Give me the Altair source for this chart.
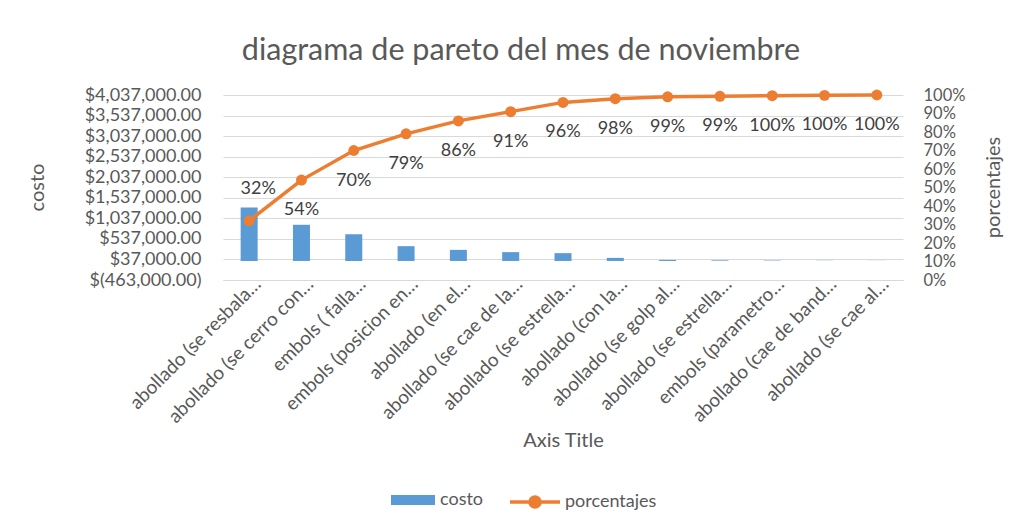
import altair as alt
import pandas as pd

categories = [
    "abollado (se resbala…",
    "abollado (se cerro con…",
    "embols ( falla…",
    "embols (posicion en…",
    "abollado (en el…",
    "abollado (se cae de la…",
    "abollado (se estrella…",
    "abollado (con la…",
    "abollado (se golp al…",
    "abollado (se estrella… ",
    "embols (parametro…",
    "abollado (cae de band…",
    "abollado (se cae al…",
]
costo = [1300000, 880000, 650000, 360000, 270000, 215000, 190000,
         75000, 25000, 15000, 10000, 5000, 3000]
porcentajes = [0.32, 0.54, 0.70, 0.79, 0.86, 0.91, 0.96,
               0.98, 0.99, 0.993, 0.996, 0.998, 1.0]

left_ticks = [-463000, 37000, 537000, 1037000, 1537000, 2037000,
              2537000, 3037000, 3537000, 4037000]
right_ticks = [0, 0.1, 0.2, 0.3, 0.4, 0.5, 0.6, 0.7, 0.8, 0.9, 1.0]

df = pd.DataFrame({
    "cat": categories,
    "costo": costo,
    "pct": porcentajes,
    "idx": list(range(len(categories))),
    "s_bar": "costo",
    "s_line": "porcentajes",
})

FONT = "Lato"
GREY = "#595959"
BLUE = "#5B9BD5"
ORANGE = "#ED7D31"

x = alt.X("cat:N", sort=categories,
          scale=alt.Scale(paddingInner=0, paddingOuter=0),
          axis=alt.Axis(title="Axis Title", labelAngle=315, labelAlign="right",
                        labelBaseline="alphabetic", labelFontSize=19, labelColor=GREY,
                        labelPadding=5, labelOffset=13, ticks=False, domain=True,
                        domainColor="#d9d9d9",
                        titleFontSize=20, titleColor=GREY, titleFontWeight="normal",
                        titleY=160, titleBaseline="middle", labelLimit=300))

bars = alt.Chart(df).mark_bar(size=17).encode(
    x=x,
    y=alt.Y("costo:Q",
            scale=alt.Scale(domain=[-463000, 4037000], nice=False, zero=False),
            axis=alt.Axis(title="costo", values=left_ticks,
                          labelExpr="datum.value < 0 ? '$(' + format(-datum.value, ',.2f') + ')' : '$' + format(datum.value, ',.2f')",
                          labelFontSize=18, labelColor=GREY, labelPadding=22,
                          ticks=False, domain=False, grid=True, gridColor="#d9d9d9",
                          titleFontSize=20, titleColor=GREY, titleFontWeight="normal",
                          titleAngle=270, titleX=-186, titleY=92, titleAlign="center",
                          titleBaseline="middle")),
    y2=alt.datum(0),
    fill=alt.Fill("s_bar:N", scale=alt.Scale(domain=["costo"], range=[BLUE]),
                  legend=alt.Legend(title=None, orient="none", legendX=168, legendY=383,
                                    symbolType="M-1,-0.23H1V0.23H-1Z", symbolSize=1936,
                                    symbolStrokeWidth=0, labelFontSize=18, labelColor=GREY,
                                    labelFont=FONT, labelOffset=5)),
)

yp = alt.Y("pct:Q", scale=alt.Scale(domain=[0, 1], nice=False),
           axis=alt.Axis(title="porcentajes", values=right_ticks, format=".0%",
                         orient="right", labelFontSize=16.5, labelColor=GREY,
                         labelPadding=20, ticks=False, domain=False, grid=False,
                         titleFontSize=20, titleColor=GREY, titleFontWeight="normal",
                         titleAngle=270, titleX=90, titleY=92, titleAlign="center",
                         titleBaseline="middle"))

line = alt.Chart(df).mark_line(strokeWidth=3.5).encode(
    x=x, y=yp,
    stroke=alt.Stroke("s_line:N", scale=alt.Scale(domain=["porcentajes"], range=[ORANGE]),
                      legend=alt.Legend(title=None, orient="none", legendX=285, legendY=380,
                                        symbolType="M-1,0H1M0.2,0A0.2,0.2 0 1,1 -0.2,0A0.2,0.2 0 1,1 0.2,0",
                                        symbolSize=2500, symbolStrokeWidth=3.5,
                                        symbolFillColor=ORANGE,
                                        labelFontSize=18, labelColor=GREY,
                                        labelFont=FONT, labelOffset=3)),
)

pts = alt.Chart(df).mark_circle(size=120, opacity=1, color=ORANGE).encode(x=x, y=yp)

lab_first = alt.Chart(df).transform_filter("datum.idx == 0").mark_text(
    dy=-32, dx=9, fontSize=18, color="#404040", font=FONT
).encode(x=x, y=yp, text=alt.Text("pct:Q", format=".0%"))

lab_rest = alt.Chart(df).transform_filter("datum.idx > 0").mark_text(
    dy=30, fontSize=18, color="#404040", font=FONT
).encode(x=x, y=yp, text=alt.Text("pct:Q", format=".0%"))

right = alt.layer(line, pts, lab_first, lab_rest)

chart = alt.layer(bars, right).resolve_scale(
    y="independent", fill="independent", stroke="independent"
).properties(
    width=680, height=185,
    autosize=alt.AutoSizeParams(type="none"),
    padding={"left": 215, "top": 87, "right": 112, "bottom": 236},
    title=alt.Title("diagrama de pareto del mes de noviembre", fontSize=30.5,
                    color=GREY, fontWeight="normal", font=FONT, offset=20, dx=-42),
).configure(font=FONT).configure_view(stroke=None).configure_axis(
    labelFont=FONT, titleFont=FONT
)

chart.save("out.html", embed_options={"renderer": "svg", "actions": False})
